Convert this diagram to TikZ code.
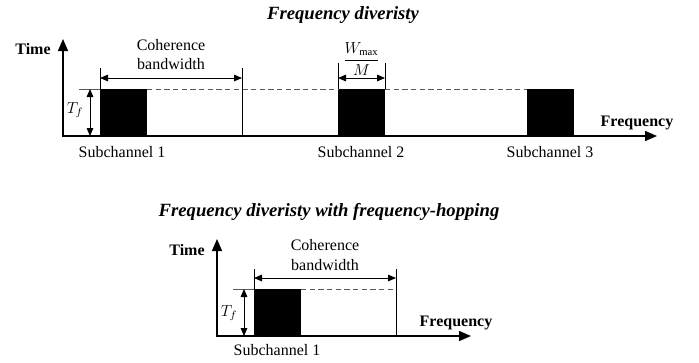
\documentclass[tikz,border=0pt]{standalone}
\usepackage{fontspec}
\setmainfont{Liberation Serif}
\usetikzlibrary{arrows.meta}
\begin{document}
\begin{tikzpicture}[x=0.75pt,y=-0.75pt,
  axis/.style={line width=1.1pt,{Triangle[length=9pt,width=7.5pt]}-{Triangle[length=9pt,width=7.5pt]}},
  dimline/.style={line width=0.7pt,{Triangle[length=6pt,width=5pt]}-{Triangle[length=6pt,width=5pt]}},
  thinline/.style={line width=0.7pt},
  dashline/.style={line width=0.7pt,gray!70!black,dash pattern=on 4pt off 2.5pt},
  tickline/.style={line width=0.7pt,gray!70!black},
  blk/.style={fill=black,draw=none,minimum width=35.25pt,minimum height=35.25pt,inner sep=0pt,outer sep=0pt,anchor=north west},
  lbl/.style={font=\fontsize{12}{14.4}\selectfont,inner sep=0pt,align=center},
  axlbl/.style={font=\fontsize{12}{14.4}\selectfont\bfseries,inner sep=0pt},
  ttl/.style={font=\fontsize{14}{17}\selectfont\bfseries\itshape,inner sep=0pt}
]
\useasboundingbox (0,0) rectangle (699,362);

% ---------- top diagram ----------
\node[ttl] (t1) at (343,15) {Frequency diveristy};
\coordinate (o1) at (63,136);
\coordinate (ytop1) at (63,39);
\coordinate (xend1) at (657,136);
\draw[axis] (ytop1) -- (o1) -- (xend1);
\node[axlbl] (time1) at (33,49) {Time};
\node[axlbl] (freq1) at (637,123) {Frequency};

\node[blk] (b1) at (100,89) {};
\node[blk] (b2) at (338,89) {};
\node[blk] (b3) at (527,89) {};

\coordinate (tk1) at (79,89);
\draw[tickline] (tk1) -- (b1.north west);
\draw[dashline] (b1.north east) -- (b2.north west);
\draw[dashline] (b2.north east) -- (b3.north west);

% coherence bandwidth
\coordinate (c1a) at (100,68);
\coordinate (c1b) at (242,68);
\coordinate (c1c) at (242,136);
\coordinate (c1l) at (100,78);
\coordinate (c1r) at (242,78);
\draw[thinline] (b1.north west) -- (c1a);
\draw[thinline] (c1b) -- (c1c);
\draw[dimline] (c1l) -- (c1r);
\node[lbl] (coh1) at (171,54.5) {Coherence\\bandwidth};

% Wmax/M
\coordinate (w1) at (338,63);
\coordinate (w2) at (385,63);
\coordinate (wl) at (338,78);
\coordinate (wr) at (385,78);
\draw[thinline] (b2.north west) -- (w1);
\draw[thinline] (b2.north east) -- (w2);
\draw[dimline] (wl) -- (wr);
\node[inner sep=0pt,font=\fontsize{12}{14.4}\selectfont] (frac) at (361.5,59) {$\displaystyle\frac{W_{\max}}{M}$};

% Tf
\coordinate (tf1a) at (90,89);
\coordinate (tf1b) at (90,136);
\draw[dimline] (tf1a) -- (tf1b);
\node[inner sep=0pt,font=\fontsize{12}{14.4}\selectfont] (tf1) at (75,110) {$T_f$};

\node[lbl] (s1) at (122,152) {Subchannel 1};
\node[lbl] (s2) at (361,152) {Subchannel 2};
\node[lbl] (s3) at (550,152) {Subchannel 3};

% ---------- bottom diagram ----------
\node[ttl] (t2) at (329,212) {Frequency diveristy with frequency-hopping};
\coordinate (o2) at (217,336);
\coordinate (ytop2) at (217,239);
\coordinate (xend2) at (471,336);
\draw[axis] (ytop2) -- (o2) -- (xend2);
\node[axlbl] (time2) at (187,250) {Time};
\node[axlbl] (freq2) at (456,323) {Frequency};

\node[blk] (b4) at (254,289) {};
\coordinate (tk2) at (233,289);
\coordinate (d2e) at (396,289);
\draw[tickline] (tk2) -- (b4.north west);
\draw[dashline] (b4.north east) -- (d2e);

\coordinate (c2a) at (254,269);
\coordinate (c2b) at (396,269);
\coordinate (c2c) at (396,336);
\coordinate (c2l) at (254,278);
\coordinate (c2r) at (396,278);
\draw[thinline] (b4.north west) -- (c2a);
\draw[thinline] (c2b) -- (c2c);
\draw[dimline] (c2l) -- (c2r);
\node[lbl] (coh2) at (325,255) {Coherence\\bandwidth};

\coordinate (tf2a) at (244,289);
\coordinate (tf2b) at (244,336);
\draw[dimline] (tf2a) -- (tf2b);
\node[inner sep=0pt,font=\fontsize{12}{14.4}\selectfont] (tf2) at (229,313) {$T_f$};

\node[lbl] (s4) at (277,350) {Subchannel 1};
\end{tikzpicture}
\end{document}
